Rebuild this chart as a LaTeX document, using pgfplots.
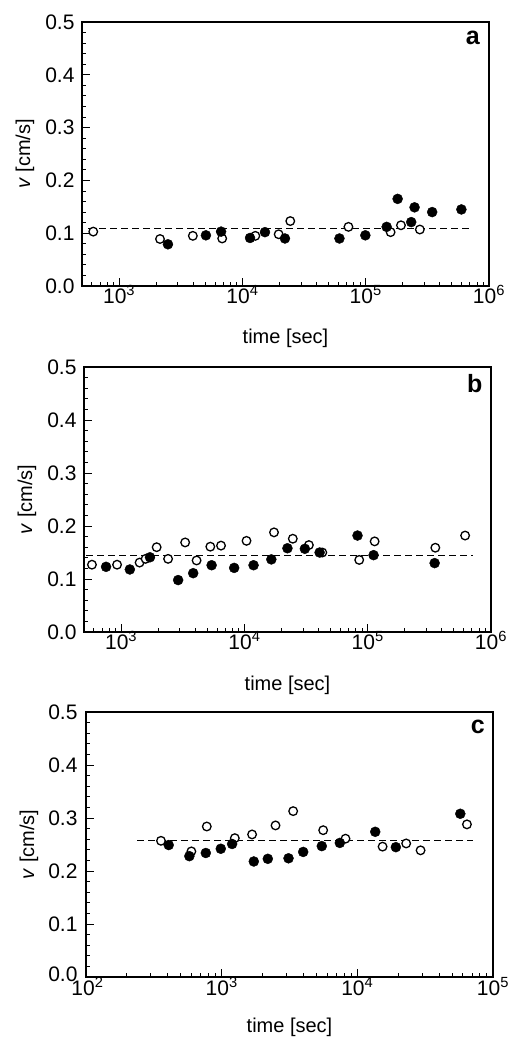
\documentclass[border=0pt]{standalone}
\usepackage{fontspec}
\setmainfont{Liberation Sans}
\usepackage{pgfplots}
\pgfplotsset{compat=1.18}

\tikzset{
  opencirc/.style={mark=*, mark size=4.3pt,
    mark options={fill=white, draw=black, line width=1.3pt}},
  fullcirc/.style={mark=*, mark size=5pt,
    mark options={fill=black, draw=black}},
  guideline/.style={black, line width=0.8pt, dash pattern=on 6.5pt off 4.5pt},
  panelletter/.style={anchor=base, font=\bfseries\fontsize{25}{30}\selectfont},
}

\begin{document}
\begin{tikzpicture}
\useasboundingbox (0,0) rectangle (508pt,-1038pt);

%% panel a
\begin{axis}[
    xmode=log, scale only axis, width=407pt, height=264pt,
    at={(82pt,-286pt)}, anchor=south west,
    xmin=500, xmax=1e6, ymin=0, ymax=0.5,
    xtick={1e3,1e4,1e5,1e6},
    xticklabels={10\textsuperscript{3},10\textsuperscript{4},10\textsuperscript{5},10\textsuperscript{6}},
    minor xtick={500,600,700,800,900,2e3,3e3,4e3,5e3,6e3,7e3,8e3,9e3,2e4,3e4,4e4,5e4,6e4,7e4,8e4,9e4,2e5,3e5,4e5,5e5,6e5,7e5,8e5,9e5},
    ytick={0,0.1,0.2,0.3,0.4,0.5},
    yticklabels={0.0,0.1,0.2,0.3,0.4,0.5},
    minor ytick={0.02,0.04,0.06,0.08,0.12,0.14,0.16,0.18,0.22,0.24,0.26,0.28,0.32,0.34,0.36,0.38,0.42,0.44,0.46,0.48},
    tick pos=left, tick align=inside,
    major tick length=8pt, minor tick length=4.5pt,
    axis line style={line width=1.3pt},
    tick style={black, line width=0.9pt},
    ticklabel style={font=\fontsize{21}{25}\selectfont},
    xticklabel style={yshift=4pt},
    yticklabel style={xshift=-4pt},
    xlabel={time [sec]}, ylabel={\textit{v} [cm/s]},
    label style={font=\fontsize{20}{24}\selectfont},
    xlabel style={at={(axis description cs:0.5,-0.2)}, anchor=center},
    ylabel style={at={(axis description cs:-0.14,0.5)}, anchor=center},
]
\addplot[guideline] coordinates {(561,0.11) (7.1e5,0.11)};
\addplot[only marks, opencirc] coordinates {
  (617,0.103)(2146,0.089)(3963,0.095)(6855,0.090)(12730,0.095)(19680,0.098)
  (24440,0.123)(72440,0.112)(159200,0.102)(193200,0.115)(274800,0.107)
};
\addplot[only marks, fullcirc] coordinates {
  (2489,0.079)(5058,0.096)(6714,0.103)(11530,0.091)(15240,0.102)(22130,0.090)
  (61240,0.090)(99340,0.096)(147900,0.112)(181500,0.165)(233900,0.121)
  (249000,0.149)(346000,0.140)(597000,0.145)
};
\node[panelletter] at (rel axis cs:0.96,0.915) {a};
\end{axis}

%% panel b
\begin{axis}[
    xmode=log, scale only axis, width=407pt, height=265pt,
    at={(84pt,-632pt)}, anchor=south west,
    xmin=500, xmax=1e6, ymin=0, ymax=0.5,
    xtick={1e3,1e4,1e5,1e6},
    xticklabels={10\textsuperscript{3},10\textsuperscript{4},10\textsuperscript{5},10\textsuperscript{6}},
    minor xtick={500,600,700,800,900,2e3,3e3,4e3,5e3,6e3,7e3,8e3,9e3,2e4,3e4,4e4,5e4,6e4,7e4,8e4,9e4,2e5,3e5,4e5,5e5,6e5,7e5,8e5,9e5},
    ytick={0,0.1,0.2,0.3,0.4,0.5},
    yticklabels={0.0,0.1,0.2,0.3,0.4,0.5},
    minor ytick={0.02,0.04,0.06,0.08,0.12,0.14,0.16,0.18,0.22,0.24,0.26,0.28,0.32,0.34,0.36,0.38,0.42,0.44,0.46,0.48},
    tick pos=left, tick align=inside,
    major tick length=8pt, minor tick length=4.5pt,
    axis line style={line width=1.3pt},
    tick style={black, line width=0.9pt},
    ticklabel style={font=\fontsize{21}{25}\selectfont},
    xticklabel style={yshift=4pt},
    yticklabel style={xshift=-4pt},
    xlabel={time [sec]}, ylabel={\textit{v} [cm/s]},
    label style={font=\fontsize{20}{24}\selectfont},
    xlabel style={at={(axis description cs:0.5,-0.2)}, anchor=center},
    ylabel style={at={(axis description cs:-0.14,0.5)}, anchor=center},
]
\addplot[guideline] coordinates {(519,0.145) (7.1e5,0.145)};
\addplot[only marks, opencirc] coordinates {
  (580,0.127)(927,0.127)(1412,0.131)(1580,0.138)(1942,0.160)(2404,0.138)
  (3307,0.169)(4093,0.135)(5290,0.161)(6460,0.163)(10400,0.172)(17380,0.188)
  (24680,0.176)(33340,0.164)(42840,0.150)(85340,0.136)(113800,0.171)
  (353500,0.159)(616700,0.182)
};
\addplot[only marks, fullcirc] coordinates {
  (755,0.123)(1177,0.118)(1714,0.141)(2900,0.098)(3843,0.111)(5420,0.126)
  (8260,0.121)(11860,0.126)(16530,0.137)(22330,0.158)(30920,0.157)
  (40740,0.150)(82650,0.182)(111600,0.145)(349100,0.130)
};
\node[panelletter] at (rel axis cs:0.96,0.905) {b};
\end{axis}

%% panel c
\begin{axis}[
    xmode=log, scale only axis, width=407pt, height=265pt,
    at={(86pt,-977pt)}, anchor=south west,
    xmin=100, xmax=1e5, ymin=0, ymax=0.5,
    xtick={1e2,1e3,1e4,1e5},
    xticklabels={\hspace{3pt}10\textsuperscript{2},10\textsuperscript{3},10\textsuperscript{4},10\textsuperscript{5}},
    minor xtick={200,300,400,500,600,700,800,900,2e3,3e3,4e3,5e3,6e3,7e3,8e3,9e3,2e4,3e4,4e4,5e4,6e4,7e4,8e4,9e4},
    ytick={0,0.1,0.2,0.3,0.4,0.5},
    yticklabels={\raisebox{5pt}{0.0},0.1,0.2,0.3,0.4,0.5},
    minor ytick={0.02,0.04,0.06,0.08,0.12,0.14,0.16,0.18,0.22,0.24,0.26,0.28,0.32,0.34,0.36,0.38,0.42,0.44,0.46,0.48},
    tick pos=left, tick align=inside,
    major tick length=8pt, minor tick length=4.5pt,
    axis line style={line width=1.3pt},
    tick style={black, line width=0.9pt},
    ticklabel style={font=\fontsize{21}{25}\selectfont},
    xticklabel style={yshift=3pt},
    yticklabel style={xshift=-5pt},
    xlabel={time [sec]}, ylabel={\textit{v} [cm/s]},
    label style={font=\fontsize{20}{24}\selectfont},
    xlabel style={at={(axis description cs:0.5,-0.19)}, anchor=center},
    ylabel style={at={(axis description cs:-0.14,0.5)}, anchor=center},
]
\addplot[guideline] coordinates {(238,0.258) (7.1e4,0.258)};
\addplot[only marks, opencirc] coordinates {
  (357,0.257)(598,0.237)(777,0.284)(1250,0.262)(1676,0.269)(2494,0.286)
  (3365,0.313)(5600,0.277)(8180,0.261)(15350,0.246)(22910,0.252)
  (29250,0.239)(64260,0.288)
};
\addplot[only marks, fullcirc] coordinates {
  (407,0.249)(578,0.228)(764,0.234)(985,0.242)(1194,0.251)(1725,0.218)
  (2188,0.223)(3110,0.224)(3990,0.236)(5470,0.247)(7430,0.253)
  (13550,0.274)(19230,0.245)(57410,0.308)
};
\node[panelletter] at (rel axis cs:0.963,0.92) {c};
\end{axis}
\end{tikzpicture}
\end{document}
